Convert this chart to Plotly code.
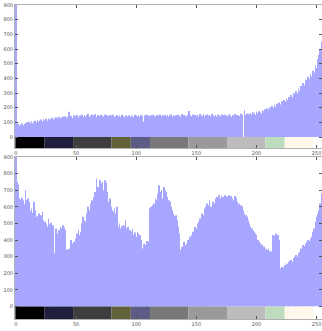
import plotly.graph_objects as go

# Histogram counts for each intensity level 0..255 (first bin is clipped by the axis range)
levels = list(range(256))

counts_top = [
    1200, 75, 90, 78, 85, 92, 80, 88, 95, 100, 86, 104, 94, 108, 92, 105,
    110, 98, 118, 106, 112, 120, 104, 122, 115, 125, 110, 128, 118, 124, 132, 120,
    126, 135, 122, 130, 138, 128, 134, 140, 126, 142, 132, 138, 172, 136, 145, 130,
    148, 138, 142, 150, 134, 146, 140, 152, 136, 148, 142, 150, 158, 138, 146, 152,
    140, 148, 155, 136, 150, 144, 138, 152, 146, 140, 154, 132, 148, 142, 150, 138,
    146, 152, 136, 144, 150, 140, 148, 138, 152, 144, 134, 146, 150, 140, 148, 136,
    150, 142, 138, 152, 146, 140, 148, 136, 150, 144, 104, 146, 152, 138, 150, 142,
    148, 136, 152, 144, 140, 150, 146, 138, 154, 142, 148, 136, 150, 144, 152, 140,
    146, 154, 138, 150, 144, 148, 140, 152, 146, 138, 156, 142, 150, 146, 140, 152,
    178, 148, 142, 154, 138, 150, 146, 152, 140, 156, 148, 144, 158, 142, 150, 154,
    146, 152, 140, 156, 148, 144, 150, 138, 154, 146, 142, 156, 150, 140, 152, 146,
    142, 154, 148, 138, 152, 146, 156, 140, 150, 148, 144, 158, 152, 0, 182, 150,
    160, 148, 156, 164, 152, 168, 158, 150, 172, 162, 176, 168, 158, 184, 176, 190,
    180, 196, 188, 202, 194, 212, 200, 220, 206, 226, 214, 236, 222, 244, 230, 252,
    240, 262, 250, 272, 258, 286, 270, 298, 282, 312, 296, 330, 314, 348, 330, 368,
    352, 388, 372, 410, 395, 430, 412, 452, 440, 490, 470, 530, 560, 600, 650, 690,
]

counts_bottom = [
    950, 750, 735, 650, 645, 655, 640, 615, 700, 640, 650, 630, 575, 590, 565, 630,
    580, 540, 545, 560, 535, 550, 570, 520, 510, 500, 480, 530, 495, 505, 480, 490,
    320, 470, 440, 410, 460, 480, 470, 490, 475, 460, 340, 345, 335, 350, 400, 380,
    390, 375, 410, 440, 460, 430, 450, 500, 540, 520, 510, 560, 600, 580, 620, 640,
    600, 660, 690, 770, 720, 700, 760, 740, 750, 700, 760, 745, 690, 630, 650, 600,
    580, 570, 590, 560, 600, 480, 500, 470, 485, 460, 490, 520, 470, 480, 440, 460,
    450, 470, 430, 445, 420, 450, 440, 430, 400, 350, 375, 380, 370, 395, 390, 590,
    600, 580, 610, 620, 650, 640, 680, 730, 690, 700, 650, 720, 700, 690, 660, 640,
    630, 600, 580, 560, 545, 550, 520, 480, 440, 340, 360, 350, 390, 370, 380, 400,
    390, 420, 430, 450, 440, 480, 470, 500, 510, 530, 520, 560, 550, 590, 600, 620,
    610, 640, 600, 590, 630, 620, 650, 660, 645, 670, 650, 665, 660, 640, 670, 665,
    660, 670, 655, 665, 650, 640, 665, 655, 630, 615, 620, 610, 600, 580, 560, 550,
    540, 520, 500, 480, 470, 455, 450, 440, 430, 400, 390, 380, 370, 375, 360, 350,
    345, 340, 350, 335, 330, 320, 430, 425, 440, 420, 430, 400, 230, 240, 225, 235,
    250, 260, 255, 270, 275, 280, 270, 290, 300, 310, 300, 320, 330, 350, 340, 370,
    365, 380, 390, 400, 395, 410, 420, 450, 470, 510, 540, 560, 580, 620, 680, 700,
]

# Palette strip drawn under each histogram: bin edges and colours
strip_edges = [-0.5, 23.5, 47.5, 79.5, 95.5, 111.5, 143.5, 175.5, 207.5, 223.5, 247.5, 255.5]
strip_colors = ["#000000", "#1f1f3d", "#3e3e3e", "#62623a", "#5c5c86", "#787878",
                "#9a9a9a", "#bcbcbc", "#bddcbd", "#fff8ea", "#ffffff"]
strip_depth = 75

x_ticks = [0, 50, 100, 150, 200, 250]
y_ticks = [0, 100, 200, 300, 400, 500, 600, 700, 800, 900]

bar_color = "#a6a6ff"

strip_centers = [(a + b) / 2 for a, b in zip(strip_edges[:-1], strip_edges[1:])]
strip_widths = [b - a for a, b in zip(strip_edges[:-1], strip_edges[1:])]

fig = go.Figure()
for xa, ya, counts in (("x", "y", counts_top), ("x2", "y2", counts_bottom)):
    fig.add_trace(go.Bar(
        x=levels, y=counts, xaxis=xa, yaxis=ya,
        marker=dict(color=bar_color, opacity=0.99, line=dict(width=0)),
        width=0.62, showlegend=False, hoverinfo="skip",
    ))
    fig.add_trace(go.Bar(
        x=strip_centers, y=[strip_depth] * len(strip_centers),
        base=[-strip_depth] * len(strip_centers), width=strip_widths,
        xaxis=xa, yaxis=ya,
        marker=dict(color=strip_colors, line=dict(width=0)),
        showlegend=False, hoverinfo="skip",
    ))

tick_font = dict(family="DejaVu Sans", size=5, color="#555555")
x_common = dict(
    range=[-0.8, 254.5], tickvals=x_ticks, ticks="inside", ticklen=3,
    tickcolor="#555555", showline=True, linecolor="#b0b0b0", linewidth=1,
    mirror="ticks", showgrid=False, zeroline=False, tickfont=tick_font,
)
y_common = dict(
    range=[-strip_depth, 900], tickvals=y_ticks, ticks="inside", ticklen=3,
    tickcolor="#555555", showline=True, linecolor="#b0b0b0", linewidth=1,
    mirror="ticks", showgrid=False, zeroline=False, tickfont=tick_font,
)

fig.update_layout(
    width=322, height=331,
    margin=dict(l=15, r=0, t=5, b=12),
    paper_bgcolor="white", plot_bgcolor="white",
    barmode="overlay",
    xaxis=dict(anchor="y", domain=[0, 1], **x_common),
    yaxis=dict(anchor="x", domain=[0.5446, 1.0], **y_common),
    xaxis2=dict(anchor="y2", domain=[0, 1], **x_common),
    yaxis2=dict(anchor="x2", domain=[0.0, 0.5159], **y_common),
)

fig.write_html("out.html")
